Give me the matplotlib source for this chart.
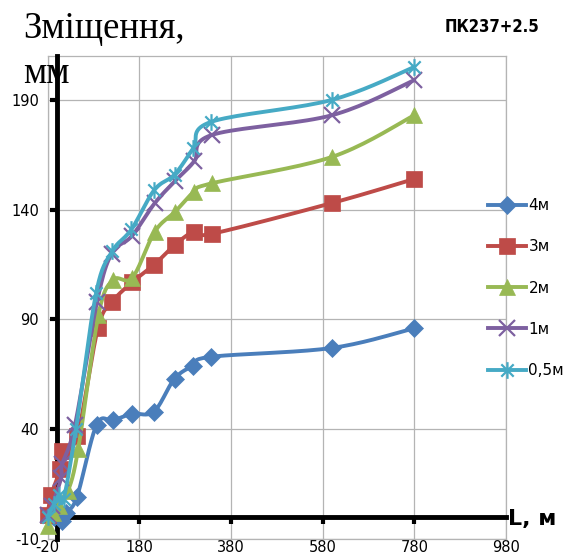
import numpy as np
import matplotlib
matplotlib.use("Agg")
import matplotlib.pyplot as plt
from matplotlib.path import Path

# ---------------- data ----------------
labels = ["4м", "3м", "2м", "1м", "0,5м"]

x_4m = [-5, 12, 20, 44, 87, 123, 164, 212, 257, 298, 337, 600, 780]
y_4m = [0, -2, 2, 9, 42, 44, 47, 48, 63, 69, 73, 77, 86]

x_3m = [-20, -12, 8, 12, 45, 90, 121, 165, 213, 258, 300, 338, 600, 780]
y_3m = [1, 10, 22, 30, 37, 86, 98, 107, 115, 124, 130, 129, 143, 154]

x_2m = [-18, -8, 5, 25, 47, 91, 123, 165, 214, 258, 299, 338, 600, 780]
y_2m = [-4, 2, 5, 12, 31, 92, 108, 109, 130, 139, 148, 152, 164, 183]

x_1m = [-18, -10, 10, 12, 40, 88, 120, 164, 214, 258, 300, 338, 600, 780]
y_1m = [1, 5, 18, 24, 42, 98, 120, 128, 143, 153, 162, 174, 183, 199]

x_05m = [-20, -5, 5, 15, 42, 86, 121, 163, 213, 257, 298, 337, 600, 780]
y_05m = [0, 6, 10, 8, 40, 102, 121, 131, 149, 156, 168, 180, 190, 205]

x_ticks = [-20, 180, 380, 580, 780, 980]
y_ticks = [-10, 40, 90, 140, 190]

# ---------------- style ----------------
colors = ["#4A7EBB", "#BE4B48", "#98B954", "#7D60A0", "#46AAC5"]

star = Path([(-1, -1), (1, 1), (-1, 1), (1, -1), (0, -1.35), (0, 1.35)],
            [Path.MOVETO, Path.LINETO, Path.MOVETO, Path.LINETO, Path.MOVETO, Path.LINETO])
markers = ["D", "s", "^", "x", star]
msizes = [9, 11, 11, 11, 12]


def smooth(xs, ys, n=20):
    """Bezier smoothing in the style of spreadsheet 'smoothed lines'."""
    P = np.column_stack([xs, ys]).astype(float)
    out = [P[0]]
    m = len(P)
    for i in range(m - 1):
        p0 = P[i - 1] if i > 0 else P[i]
        p1 = P[i]
        p2 = P[i + 1]
        p3 = P[i + 2] if i + 2 < m else P[i + 1]
        c1 = p1 + (p2 - p0) / 6.0
        c2 = p2 - (p3 - p1) / 6.0
        t = np.linspace(0, 1, n)[1:, None]
        seg = ((1 - t) ** 3) * p1 + 3 * ((1 - t) ** 2) * t * c1 + 3 * (1 - t) * t ** 2 * c2 + t ** 3 * p2
        out.extend(seg)
    out = np.array(out)
    return out[:, 0], out[:, 1]


fig = plt.figure(figsize=(5.65, 5.54), dpi=100)
pos = [47.5 / 565, 15 / 554, (506 - 47.5) / 565, (539 - 56) / 554]

# base axes: grid, border, tick labels
ax = fig.add_axes(pos, zorder=1)
ax.set_xlim(-20, 980)
ax.set_ylim(-10, 210)
ax.set_xticks(x_ticks)
ax.set_yticks(y_ticks)
ax.set_xticklabels([str(v) for v in x_ticks])
ax.set_yticklabels([str(v) for v in y_ticks])
ax.grid(True, color="#B4B4B4", lw=0.9)
for s in ax.spines.values():
    s.set_color("#B4B4B4")
    s.set_linewidth(0.9)
ax.tick_params(axis="both", length=0, labelsize=10.5, colors="black")
ax.tick_params(axis="x", pad=1)
ax.tick_params(axis="y", pad=6)

# overlay axes: thick axis lines through zero, tick marks, data
ax2 = fig.add_axes(pos, zorder=2)
ax2.patch.set_visible(False)
ax2.set_xlim(-20, 980)
ax2.set_ylim(-10, 210)
ax2.spines["top"].set_visible(False)
ax2.spines["right"].set_visible(False)
ax2.spines["left"].set_position(("data", 0))
ax2.spines["bottom"].set_position(("data", 0))
ax2.spines["bottom"].set_bounds(0, 980)
for k in ("left", "bottom"):
    ax2.spines[k].set_linewidth(3.5)
    ax2.spines[k].set_color("black")
ax2.set_xticks(x_ticks[1:-1])
ax2.set_yticks(y_ticks[1:])
ax2.tick_params(axis="both", direction="out", length=5, width=3,
                labelbottom=False, labelleft=False, color="black")

series = [(x_4m, y_4m), (x_3m, y_3m), (x_2m, y_2m), (x_1m, y_1m), (x_05m, y_05m)]
handles = []
for i, ((xs, ys), lab) in enumerate(zip(series, labels)):
    sx, sy = smooth(xs, ys)
    ax2.plot(sx, sy, color=colors[i], lw=2.8, zorder=3 + i, clip_on=False,
             solid_capstyle="round")
    mk = markers[i]
    filled = mk in ("D", "s", "^")
    ax2.plot(xs, ys, ls="none", marker=mk, ms=msizes[i],
             markerfacecolor=colors[i] if filled else "none",
             markeredgecolor=colors[i], mew=1.6 if not filled else 0.5,
             zorder=3.5 + i, clip_on=False)
    h, = ax2.plot([], [], color=colors[i], lw=2.8, marker=mk, ms=msizes[i],
                  markerfacecolor=colors[i] if filled else "none",
                  markeredgecolor=colors[i], mew=1.6 if not filled else 0.5)
    handles.append(h)

fig.legend(handles, labels, loc="upper left",
           bbox_to_anchor=(488 / 565, 1 - 198 / 554), frameon=False,
           fontsize=11, handlelength=2.5, handletextpad=0.15,
           labelspacing=1.72, borderpad=0, borderaxespad=0)

# texts
fig.text(23 / 565, 1 - 38 / 554, "Зміщення,", fontsize=26.5,
         family=["Liberation Serif", "DejaVu Serif"], va="baseline", ha="left")
fig.text(23 / 565, 1 - 83 / 554, "мм", fontsize=26.5,
         family=["Liberation Serif", "DejaVu Serif"], va="baseline", ha="left")
fig.text(445 / 565, 1 - 27 / 554, "ПК237+2.5", fontsize=12, fontweight="bold",
         fontstretch="condensed",
         family=["DejaVu Sans"], va="center", ha="left")
fig.text(508 / 565, 1 - 525 / 554, "L, м", fontsize=16, fontweight="bold",
         family=["DejaVu Sans"], va="baseline", ha="left")

fig.savefig("out.png", dpi=100)
